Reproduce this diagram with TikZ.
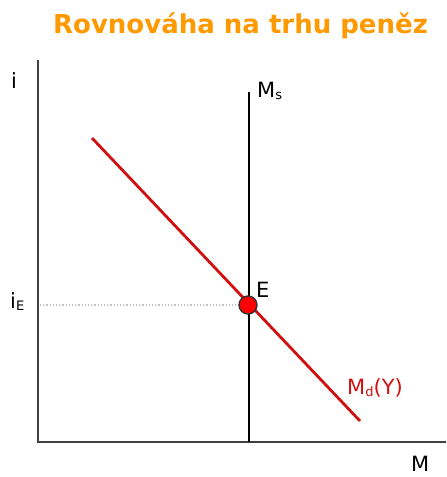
\documentclass[tikz,border=0pt]{standalone}
\usepackage{fontspec}
\setmainfont{DejaVu Sans}
\definecolor{titleorange}{HTML}{FF9900}
\definecolor{mdred}{HTML}{D01010}
\definecolor{axisgray}{HTML}{404040}
\newcommand{\lowsub}[1]{\raisebox{-0.12em}{\fontsize{13}{15}\selectfont #1}}
\begin{document}
\begin{tikzpicture}[x=1pt,y=-1pt,
  axisline/.style={draw=axisgray,line width=2.4pt},
  lbl/.style={inner sep=0pt,font=\fontsize{21}{24}\selectfont}]
\useasboundingbox (0,0) rectangle (447,477);
\node[inner sep=0pt,text=titleorange,font=\bfseries\fontsize{26}{30}\selectfont,anchor=base] (title) at (240.5,33) {Rovnováha na trhu peněz};
% axes
\coordinate (o) at (38,442);
\coordinate (ytop) at (38,60);
\coordinate (xend) at (446,442);
\draw[axisline] (ytop) -- (o) -- (xend);
\node[lbl,anchor=base west] (ilab) at (11,88) {i};
\node[lbl,anchor=base west] (mlab) at (411,471) {M};
% Ms
\coordinate (mstop) at (249,92);
\coordinate (msbot) at (249,442);
\draw[black,line width=2.4pt] (mstop) -- (msbot);
\node[lbl,anchor=base west] (mslab) at (257,97) {M\lowsub{s}};
% Md
\coordinate (mda) at (92,138);
\coordinate (mdb) at (360,421);
\draw[mdred,line width=2.8pt] (mda) -- (mdb);
\node[lbl,anchor=base west,text=mdred] (mdlab) at (347,394) {M\lowsub{d}(Y)};
% equilibrium
\coordinate (e) at (248,305);
\coordinate (yl) at (40,305);
\draw[gray!50,dotted,line width=1.2pt] (yl) -- (e);
\node[circle,fill=red,draw=black!80,line width=1.4pt,minimum size=18pt,inner sep=0pt] (edot) at (e) {};
\node[lbl,anchor=base west] (elab) at (256,297) {E};
\node[lbl,anchor=base west] (ielab) at (10,308) {i\lowsub{E}};
\end{tikzpicture}
\end{document}
